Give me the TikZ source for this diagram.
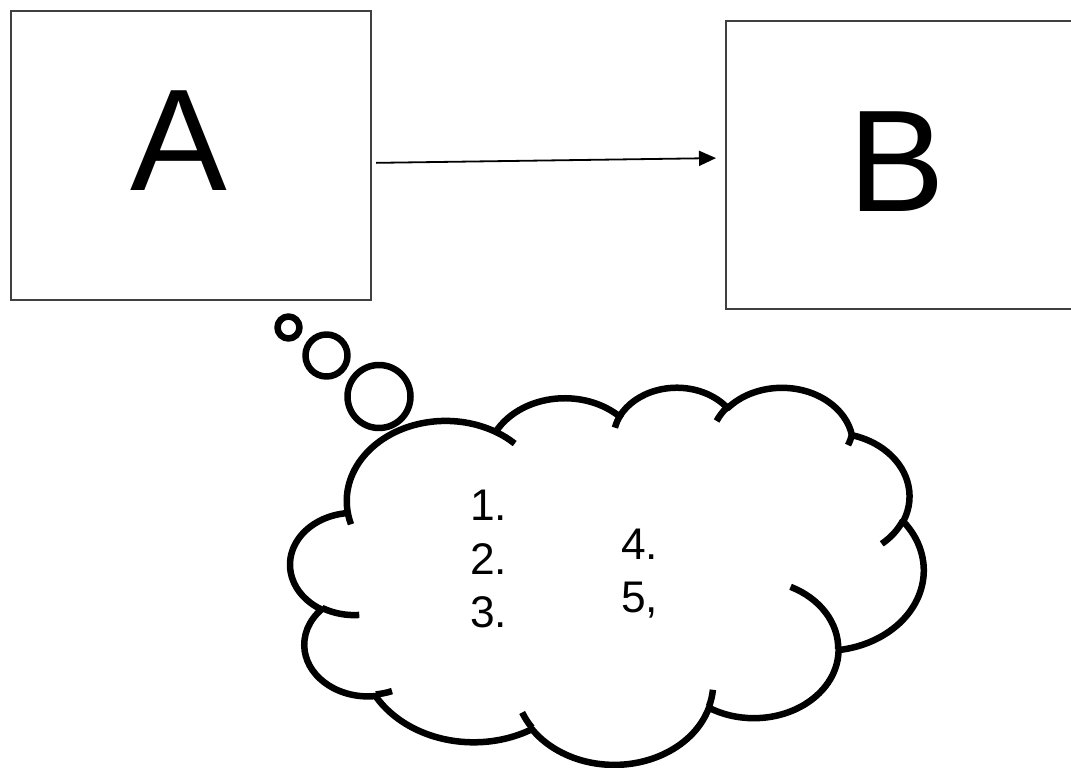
\documentclass[tikz,border=0pt]{standalone}
\usepackage{fontspec}
\setmainfont{Liberation Sans}
\usetikzlibrary{arrows.meta}
% OOXML-style arcTo: wR, hR, stAng, swAng (visual angles, degrees)
\newcommand\oocalc[4]{%
  \pgfmathsetmacro\ooa{atan2((#1)*sin(#3),(#2)*cos(#3))}%
  \pgfmathsetmacro\oob{atan2((#1)*sin((#3)+(#4)),(#2)*cos((#3)+(#4)))}%
  \pgfmathsetmacro\ood{\oob-\ooa}%
  \pgfmathsetmacro\ood{ifthenelse((#4)>0,ifthenelse(\ood<0,\ood+360,\ood),ifthenelse(\ood>0,\ood-360,\ood))}%
  \xdef\ooT{\ooa}\xdef\ooD{\ood}}
\newcommand\ooarc[4]{\pgfextra{\oocalc{#1}{#2}{#3}{#4}} arc[start angle=\ooT, delta angle=\ooD, x radius=#1, y radius=#2]}
\begin{document}
\begin{tikzpicture}[x=1pt,y=-1pt,
  box/.style={draw=black!75, line width=2.2pt, inner sep=0pt, anchor=north west},
  big/.style={font=\fontsize{145}{170}\selectfont, inner sep=0pt, anchor=base},
  item/.style={font=\fontsize{44.3}{53}\selectfont, inner sep=0pt, anchor=base west},
  link/.style={line width=1.8pt, -{Triangle[length=17pt,width=15pt]}},
  cloudline/.style={line width=6.5pt, line join=round}]
\useasboundingbox (0,0) rectangle (1071,768);
\clip (0,0) rectangle (1071,768);
\fill[white] (0,0) rectangle (1071,768);
% boxes
\node[box, minimum width=360pt, minimum height=288.5pt] (boxA) at (10,10) {};
\node[box, minimum width=360pt, minimum height=288pt] (boxB) at (725,20) {};
\node[big] (la) at (178.5,190.7) {A};
\node[big] (lb) at (897,211.7) {B};
\draw[link] ([shift={(4,7.5)}]boxA.east) -- ([shift={(-9,-7)}]boxB.west);
% thought bubbles
\draw[cloudline] (288.5,327.5) circle[radius=11];
\draw[cloudline] (326.5,355.5) circle[radius=21];
\draw[cloudline] (379,396.5) circle[radius=31.5];
% cloud
\begin{scope}[shift={(290.5,386.5)}, x={(14.653pt,0pt)}, y={(0pt,-8.727pt)}]
\draw[cloudline, fill=white] (3.900,14.370)
  \ooarc{6.753}{9.190}{-190.48748}{123.78053}
  \ooarc{5.333}{7.267}{-144.10238}{89.94523}
  \ooarc{4.365}{5.945}{-145.80792}{99.72302}
  \ooarc{4.857}{6.595}{-130.98607}{117.24173}
  \ooarc{5.333}{7.273}{-78.70888}{109.02692}
  \ooarc{6.775}{9.220}{-46.26725}{130.26900}
  \ooarc{5.785}{7.867}{0.62502}{114.03333}
  \ooarc{6.752}{9.215}{22.45160}{115.17255}
  \ooarc{7.720}{10.543}{66.24263}{75.71102}
  \ooarc{4.360}{5.918}{-274.94208}{146.73557}
  \ooarc{4.345}{5.945}{-246.82850}{152.51885}
  -- cycle;
\draw[cloudline]
  (4.693,26.177) \ooarc{4.345}{5.945}{86.74200}{26.42950}
  (6.928,34.899) \ooarc{4.360}{5.918}{73.61047}{11.44747}
  (16.478,39.090) \ooarc{6.752}{9.215}{137.62415}{14.08110}
  (28.827,34.751) \ooarc{6.752}{9.215}{6.45327}{15.99835}
  (34.129,22.954) \ooarc{5.785}{7.867}{-70.29235}{70.91737}
  (41.798,15.354) \ooarc{5.333}{7.273}{30.31803}{27.75150}
  (38.324,5.426) \ooarc{4.857}{6.595}{13.74433}{14.85890}
  (29.078,3.952) \ooarc{4.857}{6.595}{-149.18145}{18.19537}
  (22.141,4.720) \ooarc{4.365}{5.945}{-163.49427}{19.50482}
  (14.000,5.192) \ooarc{6.753}{9.190}{-66.70695}{12.31935}
  (4.127,15.789) \ooarc{6.753}{9.190}{157.65435}{11.85817};
\end{scope}
% list items
\node[item] (i1) at (470,520.5) {1.};
\node[item] (i2) at (470,574) {2.};
\node[item] (i3) at (470,627.5) {3.};
\node[item] (i4) at (621,559) {4.};
\node[item] (i5) at (621,612.5) {5,};
\end{tikzpicture}
\end{document}
